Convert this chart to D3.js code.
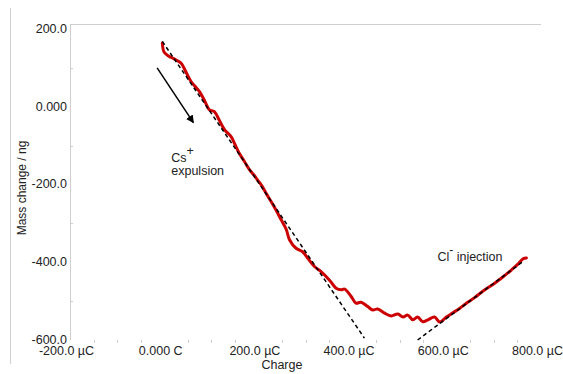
<!DOCTYPE html>
<html>
<head>
<meta charset="utf-8">
<script src="https://cdn.jsdelivr.net/npm/d3@7"></script>
<style>
  html, body { margin: 0; padding: 0; background: #fff; }
  svg { display: block; font-family: "Liberation Sans", Arial, sans-serif; }
</style>
</head>
<body>
<svg id="chart" width="563" height="374"></svg>
<script>
// ---- data ----
const charge = [-4, 0, 10, 18, 27, 36, 46, 57, 66, 75, 86, 96, 106, 117, 128, 142, 150, 159, 170, 181,
  190, 198, 207, 216, 226, 237, 248, 259, 266, 280, 294, 305, 319, 333, 351, 365, 376, 383, 397, 407,
  418, 432, 443, 453, 468, 482, 496, 507, 517, 528, 538, 549, 560, 574, 585, 599, 613, 627, 641, 659,
  677, 698, 719, 737, 751, 762, 769];
const mass = [164, 140, 130, 125, 119, 112, 90, 65, 52, 39, 15, -8, -12, -35, -59, -77, -96, -119, -140, -162,
  -175, -188, -203, -222, -242, -265, -290, -315, -342, -364, -373, -390, -411, -424, -446, -467, -471, -469, -488, -505,
  -503, -514, -523, -520, -531, -538, -533, -541, -536, -548, -541, -553, -548, -541, -554, -541, -530, -519, -506, -491,
  -474, -457, -438, -420, -405, -391, -389];

const fit1Charge = [-4, 425];
const fit1Mass = [168, -595];
const fit2Charge = [538, 763];
const fit2Mass = [-600, -397];

const xTickValues = [-200, 0, 200, 400, 600, 800];
const xTickLabels = ["-200.0 µC", "0.000 C", "200.0 µC", "400.0 µC", "600.0 µC", "800.0 µC"];
const yTickValues = [200, 0, -200, -400, -600];
const yTickLabels = ["200.0", "0.000", "-200.0", "-400.0", "-600.0"];
const xMinor = [-150, -100, -50, 50, 100, 150, 250, 300, 350, 450, 500, 550, 650, 700, 750];
const yMinor = [100, -100, -300, -500];

const arrowCharge = [-15, 62];
const arrowMass = [100, -41];

// ---- layout ----
const svg = d3.select("#chart");
const x = d3.scaleLinear().domain([-200, 800]).range([70, 541]);
const y = d3.scaleLinear().domain([-600, 200]).range([340, 29]);
const plotTop = 24;
const gridColor = "#cfcfcf";
const textColor = "#222";

// outer left border line
svg.append("line").attr("x1", 10.5).attr("x2", 10.5).attr("y1", 8).attr("y2", 364)
  .attr("stroke", "#d0d0d0").attr("stroke-width", 1);

// top frame line
svg.append("line").attr("x1", x(-200)).attr("x2", x(800)).attr("y1", plotTop + 0.5).attr("y2", plotTop + 0.5)
  .attr("stroke", gridColor).attr("stroke-width", 1);

// y axis line
svg.append("line").attr("x1", x(-200) + 0.5).attr("x2", x(-200) + 0.5).attr("y1", plotTop).attr("y2", y(-600))
  .attr("stroke", gridColor).attr("stroke-width", 1);

// y axis labels
const yAxis = d3.axisLeft(y).tickValues(yTickValues)
  .tickFormat((d, i) => yTickLabels[i]).tickSize(0).tickPadding(3);
const gy = svg.append("g").attr("transform", `translate(${x(-200)},0)`).call(yAxis);
gy.select(".domain").remove();
gy.selectAll("text").attr("font-size", 12.5).attr("fill", textColor).attr("dy", "0.26em")
  .attr("font-family", "Liberation Sans, Arial, sans-serif");

// y minor ticks
svg.append("g").selectAll("line").data(yMinor).join("line")
  .attr("x1", x(-200)).attr("x2", x(-200) + 3)
  .attr("y1", d => Math.round(y(d)) + 0.5).attr("y2", d => Math.round(y(d)) + 0.5)
  .attr("stroke", gridColor);

// x axis labels
const xAxis = d3.axisBottom(x).tickValues(xTickValues)
  .tickFormat((d, i) => xTickLabels[i]).tickSize(0).tickPadding(6);
const gx = svg.append("g").attr("transform", `translate(0,${y(-600)})`).call(xAxis);
gx.select(".domain").remove();
gx.selectAll("text").attr("font-size", 12.5).attr("fill", textColor).attr("dx", -4)
  .attr("font-family", "Liberation Sans, Arial, sans-serif");

// x minor ticks
svg.append("g").selectAll("line").data(xMinor).join("line")
  .attr("x1", d => Math.round(x(d)) + 0.5).attr("x2", d => Math.round(x(d)) + 0.5)
  .attr("y1", y(-600)).attr("y2", y(-600) + 3)
  .attr("stroke", gridColor);

// axis titles
svg.append("text").attr("x", x(250)).attr("y", 369).attr("text-anchor", "middle")
  .attr("font-size", 12.5).attr("fill", textColor).text("Charge");
svg.append("text").attr("transform", `translate(26,${(plotTop + y(-600)) / 2 + 6}) rotate(-90)`)
  .attr("text-anchor", "middle").attr("font-size", 12).attr("fill", textColor).text("Mass change / ng");

// data line
const pts = charge.map((c, i) => [c, mass[i]]);
const line = d3.line().x(d => x(d[0])).y(d => y(d[1])).curve(d3.curveCatmullRom.alpha(0.5));
svg.append("path").attr("d", line(pts)).attr("fill", "none")
  .attr("stroke", "#cc0000").attr("stroke-width", 3).attr("stroke-linejoin", "round").attr("stroke-linecap", "round");

// fitted dashed lines
const straight = d3.line().x(d => x(d[0])).y(d => y(d[1]));
[[fit1Charge, fit1Mass], [fit2Charge, fit2Mass]].forEach(([cs, ms]) => {
  svg.append("path").attr("d", straight(cs.map((c, i) => [c, ms[i]])))
    .attr("fill", "none").attr("stroke", "#000").attr("stroke-width", 1.5).attr("stroke-dasharray", "4,3");
});

// arrow
const defs = svg.append("defs");
defs.append("marker").attr("id", "ah").attr("viewBox", "0 0 10 10").attr("refX", 9).attr("refY", 5)
  .attr("markerWidth", 8).attr("markerHeight", 8).attr("markerUnits", "userSpaceOnUse").attr("orient", "auto")
  .append("path").attr("d", "M0,0 L10,5 L0,10 z").attr("fill", "#000");
svg.append("line")
  .attr("x1", x(arrowCharge[0])).attr("y1", y(arrowMass[0]))
  .attr("x2", x(arrowCharge[1])).attr("y2", y(arrowMass[1]))
  .attr("stroke", "#000").attr("stroke-width", 1.5).attr("marker-end", "url(#ah)");

// annotations
const cs = svg.append("text").attr("x", x(15)).attr("y", y(-142)).attr("font-size", 12.5).attr("fill", textColor);
cs.append("tspan").text("Cs");
cs.append("tspan").attr("dy", -7).attr("font-size", 12.5).text("+");
svg.append("text").attr("x", x(15)).attr("y", y(-175)).attr("font-size", 12.5).attr("fill", textColor).text("expulsion");

const cl = svg.append("text").attr("x", x(580)).attr("y", y(-396)).attr("font-size", 12.5).attr("fill", textColor);
cl.append("tspan").text("Cl");
cl.append("tspan").attr("dy", -7).attr("font-size", 12).text("-");
cl.append("tspan").attr("dy", 7).text(" injection");
</script>
</body>
</html>
